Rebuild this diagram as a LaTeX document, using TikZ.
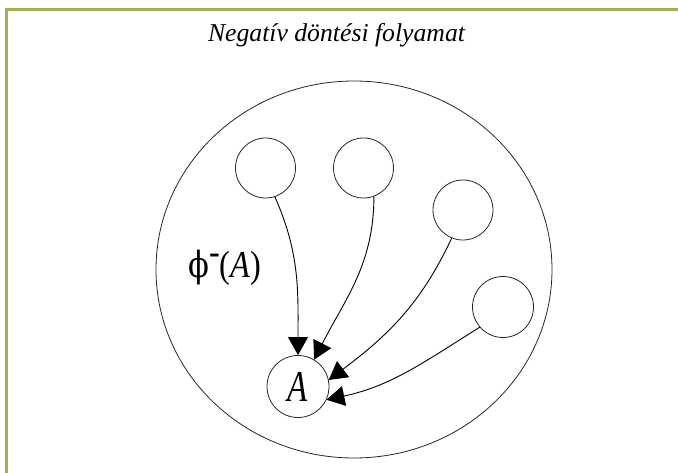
\documentclass[tikz,border=0pt]{standalone}
\usepackage{fontspec}
\setmainfont{Liberation Serif}
\newfontfamily\phifont{DejaVu Serif}
\usepackage{graphicx}
\usetikzlibrary{arrows.meta,shapes.geometric}

\definecolor{frameolive}{RGB}{168,174,84}

\begin{document}
\begin{tikzpicture}[
  x=1pt, y=1pt,
  >={Triangle[length=18pt, width=20pt]},
  circ/.style ={circle, draw=black!85, line width=0.8pt, inner sep=0pt, minimum size=60pt},
  flow/.style ={->, line width=0.9pt, black},
  ttl/.style  ={font=\fontsize{25.7}{30}\selectfont\itshape},
]
\useasboundingbox (0,0) rectangle (678,-473);

% ---------- frame (top and left edges only) ----------
\draw[frameolive, line width=3pt] (678,-10) -- (6,-10) -- (6,-473);

% ---------- title ----------
\node[ttl, anchor=base] (title) at (336.5,-42) {Negatív döntési folyamat};

% ---------- outer set ----------
\node[ellipse, draw=black!85, line width=0.8pt, minimum width=396pt, minimum height=377pt,
      inner sep=0pt] (set) at (354,-269.5) {};

% ---------- nodes ----------
\node[circ] (c1) at (265.5,-168) {};
\node[circ] (c2) at (363.5,-168) {};
\node[circ] (c3) at (463,-210) {};
\node[circ, minimum size=61pt] (c4) at (503,-307) {};
\node[circ, minimum size=62pt, font=\fontsize{44}{44}\selectfont\itshape] (a) at (298,-386.5)
  {\scalebox{0.75}[1]{A}};

\node[anchor=base west, inner sep=0pt, font=\fontsize{38}{38}\selectfont] (phi) at (188,-278)
  {\scalebox{0.85}[1]{{\phifont\fontsize{36}{36}\selectfont ϕ}\raisebox{13pt}{-}(\textit{A})}};

% ---------- arrows ----------
\draw[flow] (c1.-72) to[out=-66, in=90] (a.90);
\draw[flow] (c2.-70) to[out=-90, in=63] (a.59);
\draw[flow] (c3.-112) to[out=-115, in=37] (a.12);
\draw[flow] (c4.-139) to[out=-148, in=12] (a.-25);

\end{tikzpicture}
\end{document}
